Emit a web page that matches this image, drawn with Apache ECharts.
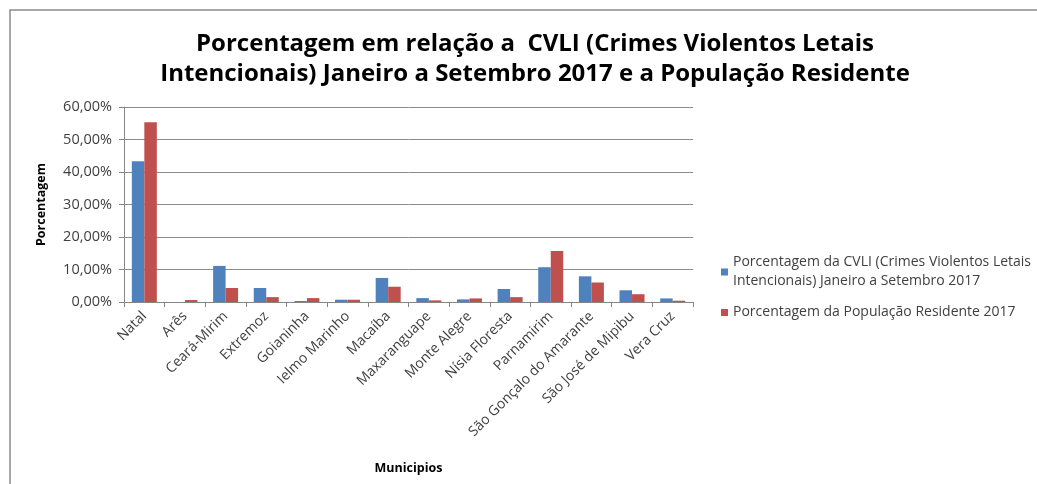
<!DOCTYPE html>
<html>
<head>
<meta charset="utf-8">
<script src="https://cdn.jsdelivr.net/npm/echarts@6/dist/echarts.min.js"></script>
<style>
  html, body { margin: 0; padding: 0; background: #fff; }
  #chart { width: 1037px; height: 484px; }
</style>
</head>
<body>
<div id="chart"></div>
<script>
// municipios
const categorias = ['Natal', 'Arês', 'Ceará-Mirim', 'Extremoz', 'Goianinha', 'Ielmo Marinho', 'Macaíba',
  'Maxaranguape', 'Monte Alegre', 'Nísia Floresta', 'Parnamirim', 'São Gonçalo do Amarante',
  'São José de Mipibu', 'Vera Cruz'];
// porcentagem da CVLI jan-set 2017
const cvli = [43.3, 0.0, 11.1, 4.3, 0.3, 0.7, 7.4, 1.2, 0.8, 4.0, 10.7, 7.9, 3.6, 1.1];
// porcentagem da populacao residente 2017
const populacao = [55.3, 0.6, 4.3, 1.5, 1.2, 0.7, 4.7, 0.5, 1.1, 1.5, 15.7, 6.0, 2.4, 0.4];
const nomeSerie1 = 'Porcentagem da CVLI (Crimes Violentos Letais\nIntencionais) Janeiro a Setembro 2017';
const nomeSerie2 = 'Porcentagem da População Residente 2017';

const chart = echarts.init(document.getElementById('chart'), null, { renderer: 'canvas' });

const fmt = v => v.toFixed(2).replace('.', ',') + '%';

const option = {
  animation: false,
  graphic: [{
    type: 'rect',
    shape: { x: 10, y: 10, width: 1100, height: 600 },
    style: { fill: 'none', stroke: '#8c8c8c', lineWidth: 1.5 },
    z: -1
  }],
  title: {
    text: 'Porcentagem em relação a  CVLI (Crimes Violentos Letais\nIntencionais) Janeiro a Setembro 2017 e a População Residente',
    left: 530,
    textAlign: 'center',
    top: 24,
    textStyle: {
      fontFamily: 'Open Sans, sans-serif',
      fontWeight: 'bold',
      fontSize: 24,
      lineHeight: 30,
      color: '#000'
    }
  },
  legend: {
    orient: 'vertical',
    left: 716,
    top: 248,
    itemWidth: 7,
    itemHeight: 7,
    itemGap: 12,
    icon: 'rect',
    textStyle: {
      fontFamily: 'Open Sans, sans-serif',
      fontSize: 14,
      lineHeight: 19,
      color: '#404040'
    },
    data: [nomeSerie1, nomeSerie2]
  },
  grid: { left: 124, right: 344, top: 107, bottom: 182 },
  xAxis: {
    type: 'category',
    data: categorias,
    name: 'Municipios',
    nameLocation: 'middle',
    nameGap: 160,
    nameTextStyle: { fontFamily: 'Open Sans, sans-serif', fontWeight: 'bold', fontSize: 12.5, color: '#000' },
    axisLine: { lineStyle: { color: '#868686' } },
    axisTick: { show: true, length: 5, lineStyle: { color: '#868686' } },
    axisLabel: {
      rotate: 45,
      interval: 0,
      margin: 12,
      fontFamily: 'Open Sans, sans-serif',
      fontSize: 14,
      color: '#404040'
    }
  },
  yAxis: {
    type: 'value',
    min: 0,
    max: 60,
    interval: 10,
    name: 'Porcentagem',
    nameLocation: 'middle',
    nameGap: 76,
    nameTextStyle: { fontFamily: 'Open Sans, sans-serif', fontWeight: 'bold', fontSize: 12.5, color: '#000' },
    axisLine: { show: true, lineStyle: { color: '#868686' } },
    axisTick: { show: true, length: 5, lineStyle: { color: '#868686' } },
    splitLine: { lineStyle: { color: '#8c8c8c' } },
    axisLabel: {
      formatter: fmt,
      margin: 12,
      fontFamily: 'Open Sans, sans-serif',
      fontSize: 14.5,
      color: '#404040'
    }
  },
  series: [
    {
      name: nomeSerie1,
      type: 'bar',
      data: cvli,
      barWidth: 12.5,
      barGap: '0%',
      itemStyle: { color: '#4F81BD' }
    },
    {
      name: nomeSerie2,
      type: 'bar',
      data: populacao,
      barWidth: 12.5,
      barGap: '0%',
      itemStyle: { color: '#C0504D' }
    }
  ]
};

chart.setOption(option);
</script>
</body>
</html>
